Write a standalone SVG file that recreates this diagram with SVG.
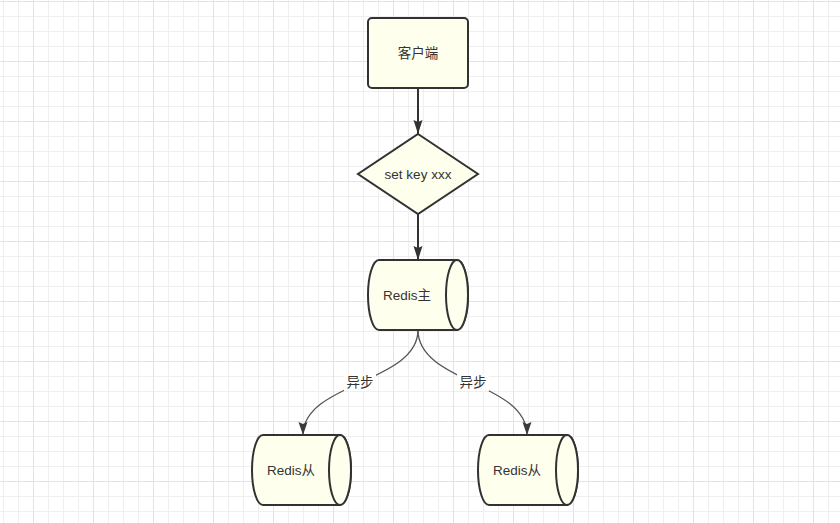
<svg xmlns="http://www.w3.org/2000/svg" width="840" height="523" viewBox="0 0 840 523">
  <style>
    .shape { fill: #ffffee; stroke: #323232; stroke-width: 2; }
    .label { font-family: "Liberation Sans", "Noto Sans CJK SC", Arial, sans-serif; font-size: 13.5px; fill: #333; text-anchor: middle; dominant-baseline: central; }
    .edge { fill: none; stroke: #323232; stroke-width: 2; }
    .curve { fill: none; stroke: #555; stroke-width: 1.3; }
  </style>
  <defs>
    <pattern id="grid" patternUnits="userSpaceOnUse" x="33" y="1" width="60" height="60">
      <path d="M15.5,0 V60 M30.5,0 V60 M45.5,0 V60 M0,15.5 H60 M0,30.5 H60 M0,45.5 H60" stroke="#efefef" stroke-width="1" fill="none"/>
      <path d="M0.5,0 V60 M0,0.5 H60" stroke="#e3e3e3" stroke-width="1" fill="none"/>
    </pattern>
    <marker id="arrow" markerUnits="userSpaceOnUse" markerWidth="16" markerHeight="10" refX="14" refY="4.5" orient="auto">
      <path d="M0,0 L14,4.5 L0,9 L2,4.5 Z" fill="#323232"/>
    </marker>
    <marker id="arrowg" markerUnits="userSpaceOnUse" markerWidth="16" markerHeight="10" refX="13" refY="4.5" orient="auto">
      <path d="M0,0 L13,4.5 L0,9 L2,4.5 Z" fill="#3a3a3a"/>
    </marker>
  </defs>
  <rect width="840" height="523" fill="#ffffff"/>
  <rect width="840" height="523" fill="url(#grid)"/>

  <g id="connectors">
    <path class="edge" d="M418,88 L418,134" marker-end="url(#arrow)"/>
    <path class="edge" d="M418,214 L418,260" marker-end="url(#arrow)"/>
    <path class="curve" d="M418,330 C418,382.5 303,382.5 303,435" marker-end="url(#arrowg)"/>
    <path class="curve" d="M418,330 C418,382.5 527,382.5 527,435" marker-end="url(#arrowg)"/>
    <rect x="344" y="374" width="32" height="17" fill="#ffffff"/>
    <text class="label" x="360" y="382.5">异步</text>
    <rect x="457" y="374" width="32" height="17" fill="#ffffff"/>
    <text class="label" x="473" y="382.5">异步</text>
  </g>

  <g id="client">
    <rect class="shape" x="368" y="18" width="100" height="70" rx="4"/>
    <text class="label" x="418" y="53">客户端</text>
  </g>

  <g id="decision">
    <polygon class="shape" points="418,134 478,174 418,214 358,174"/>
    <text class="label" x="418" y="174">set key xxx</text>
  </g>

  <g id="redis-master">
    <path class="shape" d="M379,260 L457,260 A11,35 0 0 1 457,330 L379,330 A11,35 0 0 1 379,260 Z"/>
    <ellipse class="shape" cx="457" cy="295" rx="11" ry="35"/>
    <text class="label" x="407" y="295">Redis主</text>
  </g>

  <g id="redis-slave-1">
    <path class="shape" d="M263,435 L340,435 A11,35 0 0 1 340,505 L263,505 A11,35 0 0 1 263,435 Z"/>
    <ellipse class="shape" cx="340" cy="470" rx="11" ry="35"/>
    <text class="label" x="291" y="470">Redis从</text>
  </g>

  <g id="redis-slave-2">
    <path class="shape" d="M489,435 L567,435 A11,35 0 0 1 567,505 L489,505 A11,35 0 0 1 489,435 Z"/>
    <ellipse class="shape" cx="567" cy="470" rx="11" ry="35"/>
    <text class="label" x="517" y="470">Redis从</text>
  </g>
</svg>
